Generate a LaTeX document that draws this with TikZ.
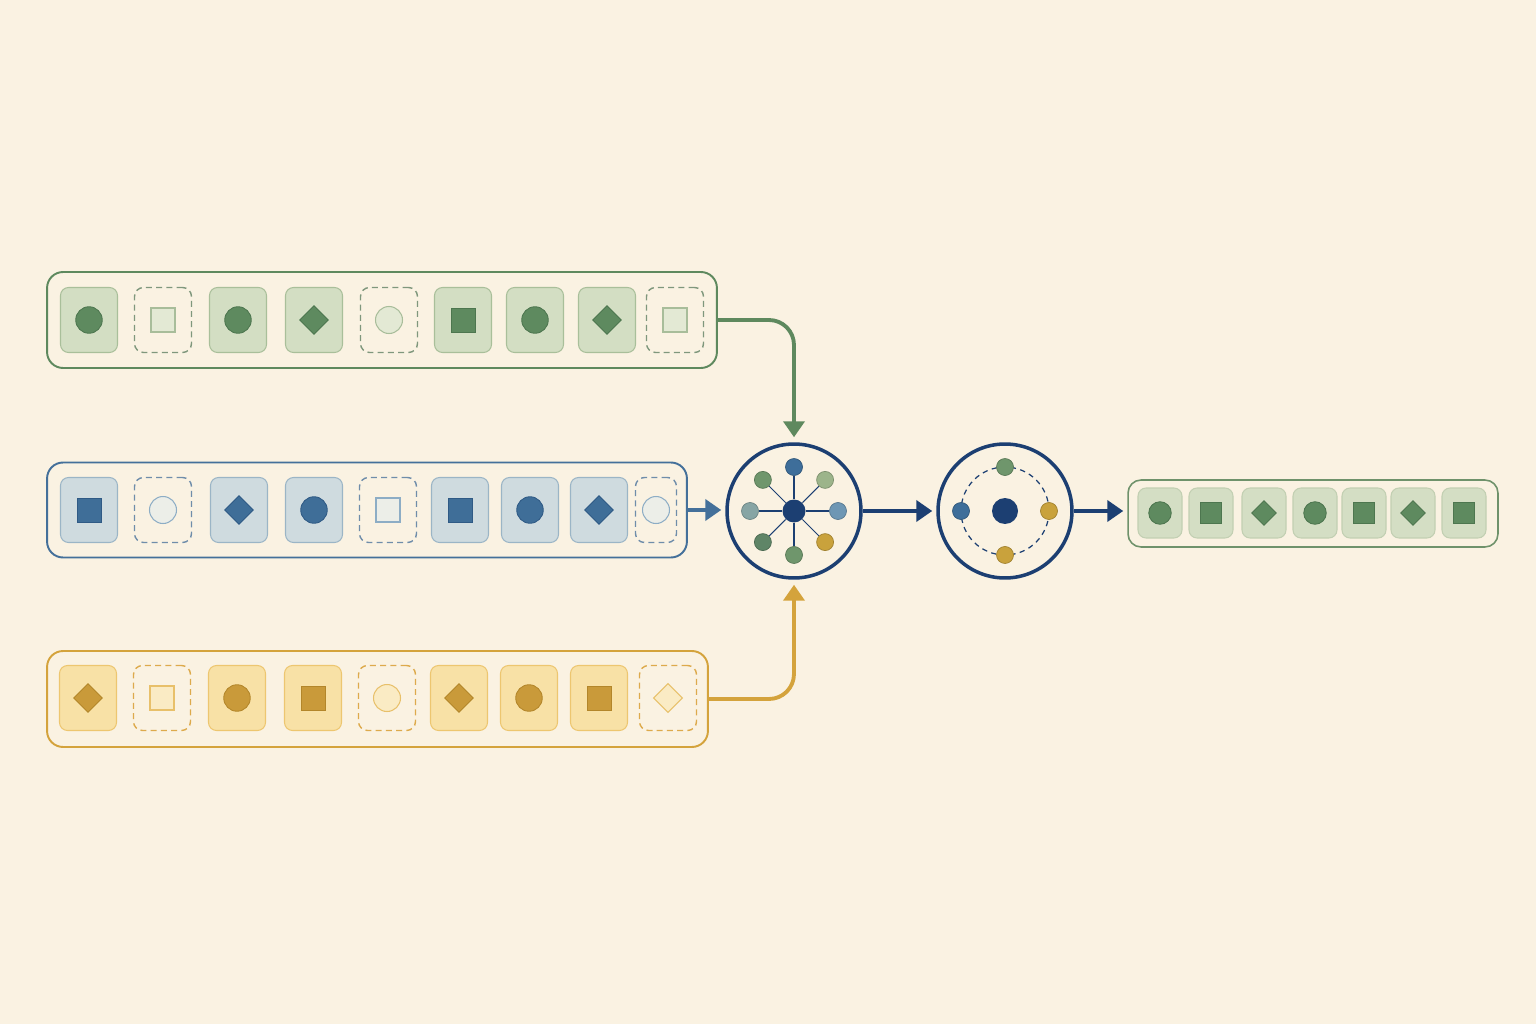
\documentclass[tikz,border=0pt]{standalone}
\usetikzlibrary{shapes.geometric,arrows.meta}

\definecolor{paper}{HTML}{FAF2E2}
\definecolor{navy}{HTML}{1C3F72}
% green row
\definecolor{gline}{HTML}{5E895E}
\definecolor{gfill}{HTML}{D3DEC3}
\definecolor{gedge}{HTML}{A9BF9A}
\definecolor{gdash}{HTML}{7F977C}
\definecolor{gsym}{HTML}{5E8A5F}
\definecolor{gsymd}{HTML}{4D764F}
\definecolor{glite}{HTML}{E3E9D4}
\definecolor{glited}{HTML}{A8BD9A}
% blue row
\definecolor{bline}{HTML}{44709A}
\definecolor{bfill}{HTML}{CFDBDF}
\definecolor{bedge}{HTML}{9BB5C6}
\definecolor{bdash}{HTML}{6F8DAA}
\definecolor{bsym}{HTML}{3F6E98}
\definecolor{bsymd}{HTML}{2F5A85}
\definecolor{blite}{HTML}{ECEEE8}
\definecolor{blited}{HTML}{8DADC5}
% yellow row
\definecolor{yline}{HTML}{D4A33C}
\definecolor{yfill}{HTML}{F8E1A6}
\definecolor{yedge}{HTML}{EDC670}
\definecolor{ydash}{HTML}{DDAA4C}
\definecolor{ysym}{HTML}{C99A3A}
\definecolor{ysymd}{HTML}{B3862A}
\definecolor{ylite}{HTML}{FAEBC4}
\definecolor{ylited}{HTML}{E8C06A}
% output row
\definecolor{oline}{HTML}{6F926B}
\definecolor{ofill}{HTML}{D4DEC4}
\definecolor{oedge}{HTML}{C2CFB2}
% satellites
\definecolor{sblue}{HTML}{3E6E9A}
\definecolor{slgreen}{HTML}{9CB48A}
\definecolor{ssteel}{HTML}{6E97B4}
\definecolor{syellow}{HTML}{C9A23C}
\definecolor{sgreen}{HTML}{6F966C}
\definecolor{sdgreen}{HTML}{5F8567}
\definecolor{steal}{HTML}{87A5A4}

\begin{document}
\begin{tikzpicture}[
        x=0.02cm, y=-0.02cm, % pixel grid
        row/.style={draw=#1line, line width=1.1pt, rounded corners=0.32cm, fill=paper, inner sep=0pt}, % sequence box
        cell/.style={draw=#1edge, line width=0.6pt, fill=#1fill, rounded corners=0.16cm, minimum width=1.14cm, minimum height=1.3cm, inner sep=0pt}, % filled token
        slot/.style={draw=#1dash, line width=0.8pt, dash pattern=on 3.4pt off 2.4pt, rounded corners=0.18cm, minimum width=1.14cm, minimum height=1.3cm, inner sep=0pt}, % missing token
        narrowslot/.style={slot=#1, minimum width=0.82cm},
        ocell/.style={cell=o, minimum width=0.88cm, minimum height=1.0cm},
        fcirc/.style={circle, fill=#1sym, draw=#1symd, line width=0.5pt, minimum size=0.53cm, inner sep=0pt},
        fsq/.style={rectangle, fill=#1sym, draw=#1symd, line width=0.5pt, minimum size=0.48cm, inner sep=0pt},
        fdia/.style={diamond, fill=#1sym, draw=#1symd, line width=0.5pt, minimum size=0.58cm, inner sep=0pt},
        ecirc/.style={circle, fill=#1lite, draw=#1lited, line width=0.6pt, minimum size=0.54cm, inner sep=0pt},
        esq/.style={rectangle, fill=#1lite, draw=#1lited, line width=0.6pt, minimum size=0.48cm, inner sep=0pt},
        edia/.style={diamond, fill=#1lite, draw=#1lited, line width=0.6pt, minimum size=0.58cm, inner sep=0pt},
        hubring/.style={circle, draw=navy, line width=2pt, minimum size=2.68cm, inner sep=0pt}, % big circles
        hub/.style={circle, fill=navy, minimum size=0.46cm, inner sep=0pt},
        sat/.style={circle, fill=#1, draw=#1!80!black, line width=0.4pt, minimum size=0.34cm, inner sep=0pt},
        spoke/.style={draw=navy, line width=0.6pt},
        feed/.style={draw=#1, line width=2.2pt, rounded corners=0.5cm, -{Triangle[length=0.32cm, width=0.42cm]}, shorten >=0.1cm} % arrow styling
        ]

        % Background
        \useasboundingbox (0,0) rectangle (1536,1024);
        \fill[paper] (0,0) rectangle (1536,1024);

        % Define rows
        \node (greenrow) [row=g, minimum width=13.4cm, minimum height=1.92cm] at (382,320) {};
        \node (bluerow) [row=b, minimum width=12.8cm, minimum height=1.9cm] at (367,510) {};
        \node (yellowrow) [row=y, minimum width=13.22cm, minimum height=1.92cm] at (377.5,699) {};
        \node (outrow) [row=o, line width=0.9pt, rounded corners=0.26cm, minimum width=7.4cm, minimum height=1.34cm] at (1313,513.5) {};

        % Tokens
        \foreach \x/\c/\s [count=\i] in {89/cell/fcirc, 163/slot/esq, 238/cell/fcirc, 314/cell/fdia, 389/slot/ecirc, 463/cell/fsq, 535/cell/fcirc, 607/cell/fdia, 675/slot/esq} {
            \node (g\i) [\c=g] at (\x,320) {};
            \node [\s=g] at (g\i) {};
        }
        \foreach \x/\c/\s [count=\i] in {89/cell/fsq, 163/slot/ecirc, 239/cell/fdia, 314/cell/fcirc, 388/slot/esq, 460/cell/fsq, 530/cell/fcirc, 599/cell/fdia, 656/narrowslot/ecirc} {
            \node (b\i) [\c=b] at (\x,510) {};
            \node [\s=b] at (b\i) {};
        }
        \foreach \x/\c/\s [count=\i] in {88/cell/fdia, 162/slot/esq, 237/cell/fcirc, 313/cell/fsq, 387/slot/ecirc, 459/cell/fdia, 529/cell/fcirc, 599/cell/fsq, 668/slot/edia} {
            \node (y\i) [\c=y] at (\x,698) {};
            \node [\s=y] at (y\i) {};
        }
        \foreach \x/\s [count=\i] in {1160/fcirc, 1211/fsq, 1264/fdia, 1315/fcirc, 1364/fsq, 1413/fdia, 1464/fsq} {
            \node (o\i) [ocell] at (\x,513) {};
            \node [\s=g, scale=0.85] at (o\i) {};
        }

        % Mixing circle
        \node (mix) [hubring] at (794,511) {};
        \node (hub) [hub] at (mix) {};
        \foreach \a/\c [count=\i] in {90/sblue, 45/slgreen, 0/ssteel, -45/syellow, -90/sgreen, -135/sdgreen, 180/steal, 135/sgreen} {
            \node (s\i) [sat=\c] at ([shift={(\a:0.88cm)}]hub) {};
            \draw[spoke] (hub) -- (s\i);
        }

        % Pooled circle
        \node (pool) [hubring] at (1005,511) {};
        \draw[navy, line width=0.7pt, dash pattern=on 3pt off 2.5pt] (pool.center) circle [radius=0.88cm];
        \node (phub) [hub, minimum size=0.52cm] at (pool) {};
        \foreach \a/\c [count=\i] in {90/sgreen, 180/sblue, 0/syellow, -90/syellow} {
            \node (p\i) [sat=\c] at ([shift={(\a:0.88cm)}]phub) {};
        }

        % Draw arrows
        \draw[feed=gline] (greenrow.east) -| (mix.north);
        \draw[feed=yline] (yellowrow.east) -| (mix.south);
        \draw[feed=bline, shorten >=0.08cm] (bluerow.east) -- (bluerow.east -| mix.west);
        \draw[feed=navy, shorten >=0.08cm] (mix.east) -- (pool.west);
        \draw[feed=navy, shorten >=0.08cm] (pool.east) -- (pool.east -| outrow.west);

\end{tikzpicture}
\end{document}
